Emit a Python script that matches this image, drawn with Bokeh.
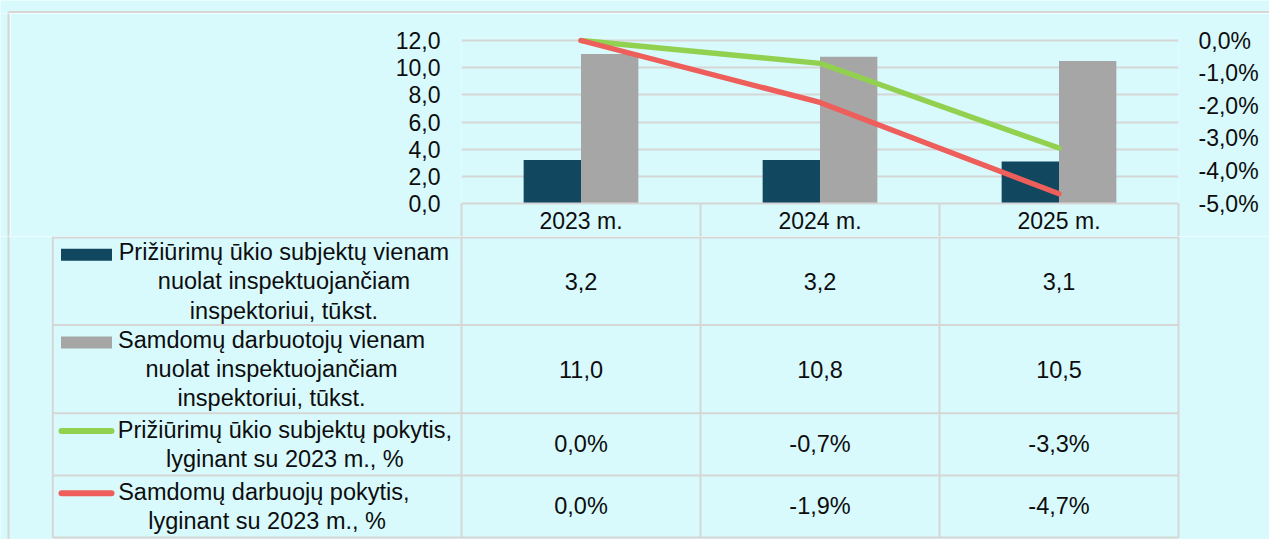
from bokeh.plotting import figure
from bokeh.models import Range1d, FixedTicker, CustomJSTickFormatter, LinearAxis, ColumnDataSource
from bokeh.layouts import column, row
from bokeh.core.properties import value
from bokeh.transform import dodge
from bokeh.embed import file_html
from bokeh.resources import INLINE

# ---------------- data ----------------
categories = ["2023 m.", "2024 m.", "2025 m."]
subjects_per_inspector = [3.2, 3.2, 3.1]        # tūkst.
employees_per_inspector = [11.0, 10.8, 10.5]    # tūkst.
subjects_change_pct = [0.0, -0.7, -3.3]         # %
employees_change_pct = [0.0, -1.9, -4.7]        # %
left_ticks = [0, 2, 4, 6, 8, 10, 12]
right_ticks = [0, -1, -2, -3, -4, -5]
series_labels = [
    "Prižiūrimų ūkio subjektų vienam\nnuolat inspektuojančiam\ninspektoriui, tūkst.",
    "Samdomų darbuotojų vienam\nnuolat inspektuojančiam\ninspektoriui, tūkst.",
    "Prižiūrimų ūkio subjektų pokytis,\nlyginant su 2023 m., %",
    "Samdomų darbuojų  pokytis,\nlyginant su 2023 m., %",
]

# ---------------- styles / layout ----------------
BG = "#D8FAFD"
NAVY = "#11475F"
GRAY = "#A6A6A6"
GREEN = "#92D050"
RED = "#EE5E5A"
LINE = "#D6D6D6"
TXT = "#0D0D0D"
FONT = "Liberation Sans"
FS_AX = "23px"
FS_TB = "23.5px"

W = 1269
STRIP_H = 13
LS = 10
FRAME_L = 461
FRAME_W = 717
TOP_B = 37 - STRIP_H
PLOT_H = 163
EXT = 3
HDR = 33
H1 = TOP_B + EXT + PLOT_H + HDR
H2 = 539 - STRIP_H - H1
COLW = FRAME_W / len(categories)
LABEL_CX = [283.4, 271.1, 284.4, 266.6]   # centre of each legend label block (px)

n = len(categories)
centers = [i + 0.5 for i in range(n)]
bounds = [float(i) for i in range(n + 1)]

def num(v):
    return f"{v:.1f}".replace(".", ",")

def pct(v):
    return f"{v:.1f}%".replace(".", ",")

def blank(fig):
    fig.axis.visible = False
    fig.grid.visible = False

def plain(width, height, xr, yr):
    f = figure(width=width, height=height, x_range=xr, y_range=yr,
               output_backend="svg", toolbar_location=None, title=None, min_border=0,
               background_fill_color=BG, border_fill_color=BG, outline_line_color=None)
    blank(f)
    return f

def px(xpix):
    return (xpix - FRAME_L) / COLW

# ---------------- outer frame (top edge + left edge beside chart) ----------------
x0 = px(0)
x1 = px(W)
border_x = px(8)
top = plain(W, STRIP_H, Range1d(x0, x1), Range1d(STRIP_H, 0))
top.segment(x0=[border_x], x1=[x1], y0=[11.5], y1=[11.5], line_color=LINE, line_width=2)
top.segment(x0=[border_x], x1=[border_x], y0=[11.5], y1=[STRIP_H], line_color=LINE, line_width=2)

side = plain(LS, H1, Range1d(0, LS), Range1d(H1, 0))
side.segment(x0=[8], x1=[8], y0=[0], y1=[H1], line_color=LINE, line_width=2)

# ---------------- chart ----------------
lmax = max(left_ticks)
rmin = min(right_ticks)
p1 = figure(width=W - LS, height=H1, x_range=Range1d(0, n),
            y_range=Range1d(0, lmax + EXT * lmax / PLOT_H),
            output_backend="svg", toolbar_location=None, title=None,
            min_border_left=FRAME_L - LS, min_border_right=W - FRAME_L - FRAME_W,
            min_border_top=TOP_B, min_border_bottom=HDR,
            background_fill_color=BG, border_fill_color=BG, outline_line_color=None)
p1.extra_y_ranges = {"pct": Range1d(rmin, 0 + EXT * (-rmin) / PLOT_H)}

src = ColumnDataSource(dict(x=centers, a=subjects_per_inspector, b=employees_per_inspector,
                            g=subjects_change_pct, r=employees_change_pct))
bw = 0.24
p1.vbar(x=dodge("x", -bw / 2), top="a", width=bw, source=src, fill_color=NAVY, line_color=None)
p1.vbar(x=dodge("x", bw / 2), top="b", width=bw, source=src, fill_color=GRAY, line_color=None)
p1.line(x="x", y="g", source=src, y_range_name="pct", line_color=GREEN, line_width=5.4,
        line_cap="round", line_join="round")
p1.line(x="x", y="r", source=src, y_range_name="pct", line_color=RED, line_width=5.4,
        line_cap="round", line_join="round")

p1.xgrid.visible = False
p1.ygrid.ticker = FixedTicker(ticks=left_ticks)
p1.ygrid.grid_line_color = LINE
p1.ygrid.grid_line_width = 2

ly = p1.yaxis[0]
ly.ticker = FixedTicker(ticks=left_ticks)
ly.formatter = CustomJSTickFormatter(code="return tick.toFixed(1).replace('.', ',');")

ry = LinearAxis(y_range_name="pct", ticker=FixedTicker(ticks=right_ticks),
                formatter=CustomJSTickFormatter(code="return tick.toFixed(1).replace('.', ',') + '%';"))
p1.add_layout(ry, "right")

for ax in (ly, ry):
    ax.axis_line_color = None
    ax.major_tick_line_color = None
    ax.minor_tick_line_color = None
    ax.major_tick_out = 0
    ax.major_tick_in = 0
    ax.minor_tick_out = 0
    ax.minor_tick_in = 0
    ax.major_label_text_font = FONT
    ax.major_label_text_font_size = FS_AX
    ax.major_label_text_color = TXT
ly.major_label_standoff = 21
ry.major_label_standoff = 20

xa = p1.xaxis[0]
xa.ticker = FixedTicker(ticks=centers, minor_ticks=bounds)
xa.major_label_overrides = {c: lab for c, lab in zip(centers, categories)}
xa.axis_line_color = LINE
xa.axis_line_width = 2
xa.major_tick_line_color = None
xa.major_tick_out = 0
xa.major_tick_in = 0
xa.minor_tick_line_color = LINE
xa.minor_tick_line_width = 2
xa.minor_tick_out = HDR
xa.minor_tick_in = 0
xa.major_label_standoff = 4 - HDR
xa.major_label_text_font = FONT
xa.major_label_text_font_size = FS_AX
xa.major_label_text_color = TXT

# ---------------- data table ----------------
p2 = plain(W, H2, Range1d(x0, x1), Range1d(H2, 0))

# outer frame (left edge)
p2.segment(x0=[border_x], x1=[border_x], y0=[0], y1=[H2], line_color=LINE, line_width=2)

row_edges = [1, 88.4, 176.7, 238.9, H2 - 2]
lab_left = px(52.3)
p2.segment(x0=[lab_left] * len(row_edges), x1=[bounds[-1]] * len(row_edges),
           y0=row_edges, y1=row_edges, line_color=LINE, line_width=2)
vx = [lab_left] + bounds
p2.segment(x0=vx, x1=vx, y0=[0] * len(vx), y1=[row_edges[-1]] * len(vx),
           line_color=LINE, line_width=2)

row_mid = [(row_edges[i] + row_edges[i + 1]) / 2 for i in range(4)]
PITCH = 26.5
p2.text(x=[px(c) for c in LABEL_CX], y=row_mid, text=series_labels, text_font=value(FONT),
        text_font_size=FS_TB, text_color=TXT, text_align="center", text_baseline="middle",
        text_line_height=PITCH / 23.5)

first_line = [m - lab.count("\n") * PITCH / 2 for m, lab in zip(row_mid, series_labels)]
kx = px(86)
kw = 51 / COLW
p2.rect(x=[kx, kx], y=first_line[:2], width=kw, height=12, fill_color=[NAVY, GRAY], line_color=None)
lx0 = px(61)
lx1 = px(111)
p2.segment(x0=[lx0, lx0], x1=[lx1, lx1], y0=first_line[2:], y1=first_line[2:],
           line_color=[GREEN, RED], line_width=6, line_cap="round")

rows_text = [
    [num(v) for v in subjects_per_inspector],
    [num(v) for v in employees_per_inspector],
    [pct(v) for v in subjects_change_pct],
    [pct(v) for v in employees_change_pct],
]
tx, ty, tt = [], [], []
for r, vals in enumerate(rows_text):
    for c, s in enumerate(vals):
        tx.append(centers[c]); ty.append(row_mid[r]); tt.append(s)
p2.text(x=tx, y=ty, text=tt, text_font=value(FONT), text_font_size=FS_TB, text_color=TXT,
        text_align="center", text_baseline="middle")

layout = column(row(top), row(column(side), column(p1)), row(p2), spacing=0)

open("out.html", "w").write(file_html(layout, INLINE))
